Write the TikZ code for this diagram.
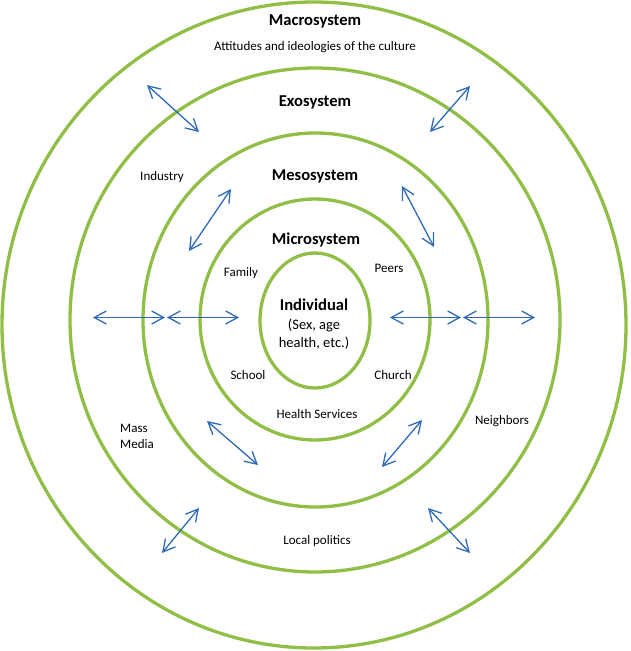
\documentclass[tikz,border=0pt]{standalone}
\usepackage{fontspec}
\setmainfont{Carlito}
\usetikzlibrary{shapes.geometric,arrows.meta}
\definecolor{ringgreen}{RGB}{145,190,70}
\definecolor{arrowblue}{RGB}{46,106,184}
\tikzset{
  ring/.style={draw=ringgreen, line width=3.3pt, ellipse, inner sep=0pt, fill=none},
  link/.style={draw=arrowblue, line width=1.3pt, {Straight Barb[length=12pt,width=13pt]}-{Straight Barb[length=12pt,width=13pt]}},
  head/.style={font=\fontsize{16.6}{19}\selectfont\bfseries, inner sep=0pt},
  lbl/.style={font=\fontsize{13}{15}\selectfont, inner sep=0pt},
}
\begin{document}
\begin{tikzpicture}[x=1pt,y=-1pt]
\useasboundingbox (0,0) rectangle (630,651);
% rings
\node[ring, minimum width=624pt, minimum height=646pt] (macro) at (314,325) {};
\node[ring, minimum width=490pt, minimum height=504pt] (exo) at (315,320) {};
\node[ring, minimum width=345pt, minimum height=374pt] (meso) at (315.5,320) {};
\node[ring, minimum width=230pt, minimum height=241pt] (micro) at (315,319.5) {};
\node[ring, minimum width=110pt, minimum height=135pt] (indiv) at (315,320.5) {};
% texts
\node[head] (tmacro) at (315,21.5) {Macrosystem};
\node[lbl] (tatt) at (315,47.5) {Attitudes and ideologies of the culture};
\node[head] (texo) at (315,102.5) {Exosystem};
\node[head] (tmeso) at (315,176.5) {Mesosystem};
\node[head] (tmicro) at (316,239.5) {Microsystem};
\node[head] (tind) at (314,305) {Individual};
\node[lbl, font=\fontsize{14.5}{18.5}\selectfont, align=center] (tsex) at (314,334) {(Sex, age\\health, etc.)};
\node[lbl] (tfam) at (241,273) {Family};
\node[lbl] (tpeer) at (389,268.5) {Peers};
\node[lbl] (tsch) at (248,375.5) {School};
\node[lbl] (tchu) at (393,375.5) {Church};
\node[lbl] (thealth) at (317,414.5) {Health Services};
\node[lbl] (tind2) at (162,177) {Industry};
\node[lbl, align=left, anchor=west, font=\fontsize{13}{16}\selectfont] (tmass) at (120,436) {Mass\\Media};
\node[lbl] (tneigh) at (502,421.5) {Neighbors};
\node[lbl] (tlocal) at (317,541.5) {Local politics};
% arrow end points
\coordinate (a1) at (147,85);  \coordinate (b1) at (199,132);
\coordinate (a2) at (470,86);  \coordinate (b2) at (430,132);
\coordinate (a3) at (231,189); \coordinate (b3) at (189,251);
\coordinate (a4) at (402,186); \coordinate (b4) at (434,247);
\coordinate (a5) at (93,317.5);  \coordinate (b5) at (165,317.5);
\coordinate (a6) at (167,317.5); \coordinate (b6) at (239,317.5);
\coordinate (a7) at (390,317.5); \coordinate (b7) at (461,317.5);
\coordinate (a8) at (463,317.5); \coordinate (b8) at (535,317.5);
\coordinate (a9) at (207,421); \coordinate (b9) at (258,465);
\coordinate (a10) at (199,508); \coordinate (b10) at (162,553);
\coordinate (a11) at (422,420); \coordinate (b11) at (382,467);
\coordinate (a12) at (428,508); \coordinate (b12) at (470,553);
\foreach \i in {1,...,12} \draw[link] (a\i) -- (b\i);
\end{tikzpicture}
\end{document}
